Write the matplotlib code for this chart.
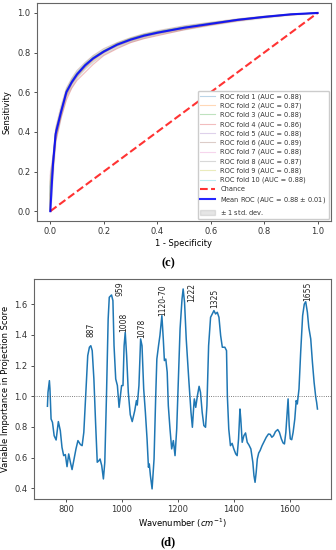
"""
ROC curves (10-fold CV) and VIP spectrum, two stacked panels.
"""
import matplotlib
matplotlib.use("Agg")
import matplotlib.pyplot as plt

# ---- panel (c): ROC ----
fold_fpr = [0, 0, 0.01, 0.02, 0.04, 0.06, 0.08, 0.10, 0.13, 0.16, 0.20, 0.25,
            0.30, 0.35, 0.40, 0.50, 0.60, 0.70, 0.80, 0.90, 1.0]
fold_tpr = [
    [0, 0.12, 0.26, 0.40, 0.51, 0.60, 0.66, 0.70, 0.74, 0.775, 0.81, 0.84, 0.87, 0.89, 0.905, 0.93, 0.95, 0.965, 0.98, 0.992, 1.0],
    [0, 0.10, 0.22, 0.37, 0.49, 0.58, 0.64, 0.68, 0.725, 0.76, 0.80, 0.835, 0.86, 0.88, 0.895, 0.92, 0.94, 0.962, 0.978, 0.99, 1.0],
    [0, 0.15, 0.25, 0.40, 0.50, 0.61, 0.655, 0.695, 0.74, 0.775, 0.81, 0.845, 0.87, 0.89, 0.905, 0.928, 0.948, 0.967, 0.982, 0.994, 1.0],
    [0, 0.08, 0.20, 0.35, 0.47, 0.56, 0.62, 0.66, 0.70, 0.74, 0.785, 0.82, 0.85, 0.87, 0.885, 0.915, 0.94, 0.96, 0.978, 0.99, 1.0],
    [0, 0.14, 0.25, 0.41, 0.51, 0.60, 0.65, 0.695, 0.74, 0.77, 0.805, 0.84, 0.865, 0.887, 0.90, 0.927, 0.946, 0.966, 0.981, 0.993, 1.0],
    [0, 0.18, 0.28, 0.42, 0.53, 0.62, 0.67, 0.71, 0.75, 0.785, 0.82, 0.85, 0.875, 0.895, 0.91, 0.935, 0.953, 0.97, 0.984, 0.995, 1.0],
    [0, 0.20, 0.27, 0.39, 0.50, 0.59, 0.645, 0.685, 0.735, 0.77, 0.80, 0.838, 0.862, 0.883, 0.898, 0.924, 0.945, 0.964, 0.98, 0.993, 1.0],
    [0, 0.09, 0.21, 0.37, 0.48, 0.585, 0.64, 0.68, 0.725, 0.765, 0.80, 0.833, 0.858, 0.878, 0.895, 0.92, 0.942, 0.962, 0.978, 0.991, 1.0],
    [0, 0.16, 0.26, 0.40, 0.505, 0.605, 0.655, 0.69, 0.735, 0.77, 0.808, 0.842, 0.868, 0.886, 0.902, 0.926, 0.946, 0.966, 0.981, 0.993, 1.0],
    [0, 0.13, 0.24, 0.39, 0.50, 0.60, 0.65, 0.69, 0.74, 0.772, 0.805, 0.84, 0.866, 0.886, 0.90, 0.925, 0.945, 0.965, 0.98, 0.993, 1.0],
]
fold_auc = [0.88, 0.87, 0.88, 0.86, 0.88, 0.89, 0.88, 0.87, 0.88, 0.88]

mean_fpr = [0, 0.01, 0.02, 0.04, 0.06, 0.08, 0.10, 0.13, 0.16, 0.20, 0.25,
            0.30, 0.35, 0.40, 0.50, 0.60, 0.70, 0.80, 0.90, 1.0]
mean_tpr = [0, 0.24, 0.39, 0.50, 0.60, 0.65, 0.69, 0.735, 0.77, 0.805, 0.84,
            0.865, 0.885, 0.90, 0.925, 0.945, 0.965, 0.98, 0.993, 1.0]
std_tpr = [0, 0.04, 0.03, 0.02, 0.02, 0.02, 0.015, 0.015, 0.015, 0.012, 0.012,
           0.01, 0.01, 0.008, 0.008, 0.006, 0.005, 0.004, 0.002, 0]
mean_auc, std_auc = 0.88, 0.01

# ---- panel (d): VIP scores ----
wavenumber = [734, 736, 741, 743, 747, 752, 758, 765, 773, 780, 786, 792, 798, 804,
              810, 816, 822, 828, 836, 843, 852, 858, 864, 870, 878, 884, 889, 894,
              900, 906, 912, 918, 922, 928, 934, 939, 945, 951, 955, 963, 968, 972,
              978, 984, 990, 999, 1004, 1008, 1012, 1017, 1023, 1030, 1037, 1046,
              1052, 1055, 1061, 1067, 1072, 1078, 1084, 1090, 1095, 1098, 1102, 1108,
              1115, 1121, 1125, 1131, 1136, 1143, 1148, 1152, 1157, 1162, 1166, 1172,
              1178, 1184, 1190, 1196, 1202, 1208, 1215, 1219, 1224, 1230, 1239, 1247,
              1252, 1257, 1259, 1264, 1270, 1276, 1281, 1287, 1293, 1299, 1304, 1310,
              1317, 1323, 1329, 1335, 1341, 1347, 1353, 1359, 1368, 1374, 1377, 1382,
              1388, 1394, 1400, 1407, 1412, 1417, 1422, 1425, 1430, 1436, 1442, 1448,
              1454, 1461, 1468, 1472, 1476, 1480, 1484, 1489, 1494, 1501, 1508, 1516,
              1524, 1530, 1536, 1542, 1549, 1557, 1563, 1570, 1576, 1581, 1586, 1590,
              1594, 1598, 1602, 1607, 1612, 1618, 1623, 1627, 1633, 1639, 1646, 1652,
              1657, 1663, 1668, 1675, 1681, 1687, 1693, 1696, 1699]
vip = [0.935, 1.026, 1.102, 1.048, 0.852, 0.83, 0.743, 0.715, 0.835, 0.776, 0.667,
       0.613, 0.62, 0.541, 0.624, 0.57, 0.522, 0.58, 0.657, 0.711, 0.685, 0.678,
       0.765, 0.983, 1.265, 1.32, 1.33, 1.298, 1.113, 0.83, 0.57, 0.58, 0.591,
       0.548, 0.461, 0.57, 1.004, 1.504, 1.646, 1.661, 1.624, 1.33, 1.113, 1.07,
       0.928, 1.07, 1.07, 1.33, 1.417, 1.265, 1.026, 0.88, 0.835, 0.906, 0.972,
       0.943, 1.07, 1.374, 1.33, 1.048, 0.896, 0.722, 0.537, 0.559, 0.483, 0.396,
       0.591, 1.004, 1.243, 1.33, 1.396, 1.526, 1.374, 1.233, 1.243, 1.157, 0.939,
       0.787, 0.657, 0.711, 0.613, 0.787, 1.113, 1.439, 1.635, 1.70, 1.613, 1.374,
       1.113, 0.896, 0.798, 0.939, 0.983, 0.928, 1.004, 1.065, 1.026, 0.896, 0.809,
       0.798, 0.939, 1.33, 1.515, 1.537, 1.559, 1.537, 1.548, 1.515, 1.396, 1.32,
       1.32, 1.298, 1.004, 0.787, 0.678, 0.693, 0.657, 0.624, 0.613, 0.722, 0.917,
       0.852, 0.70, 0.743, 0.761, 0.70, 0.683, 0.657, 0.57, 0.483, 0.439, 0.504,
       0.591, 0.63, 0.646, 0.678, 0.704, 0.733, 0.754, 0.752, 0.733, 0.743, 0.77,
       0.783, 0.765, 0.722, 0.696, 0.689, 0.765, 0.874, 0.983, 0.809, 0.722, 0.717,
       0.765, 0.852, 0.972, 0.95, 1.048, 1.287, 1.526, 1.602, 1.617, 1.548, 1.45,
       1.374, 1.222, 1.091, 0.993, 0.961, 0.917]
peak_labels = ['887', '959', '1008', '1078', '1120-70', '1222', '1325', '1655']
peak_text_pos = [(889, 1.385), (993, 1.657), (1008, 1.417), (1071, 1.378),
                 (1145, 1.526), (1249, 1.617), (1333, 1.574), (1663, 1.624)]

plt.rcParams['font.family'] = ['DejaVu Sans']
fig = plt.figure(figsize=(3.36, 5.5), dpi=100)
frame_col = '#666666'

# ---------------- (c) ----------------
ax1 = fig.add_axes([0.110, 0.598, 0.875, 0.3965])
for i, (tpr, auc) in enumerate(zip(fold_tpr, fold_auc)):
    ax1.plot(fold_fpr, tpr, lw=0.8, alpha=0.3,
             label='ROC fold %d (AUC = %0.2f)' % (i + 1, auc))
ax1.plot([0, 1], [0, 1], linestyle='--', lw=1.5, color='r', alpha=.8, label='Chance')
ax1.plot(mean_fpr, mean_tpr, color='b', lw=1.5, alpha=.85,
         label=r'Mean ROC (AUC = %0.2f $\pm$ %0.2f)' % (mean_auc, std_auc))
upper = [min(m + s, 1) for m, s in zip(mean_tpr, std_tpr)]
lower = [max(m - s, 0) for m, s in zip(mean_tpr, std_tpr)]
ax1.fill_between(mean_fpr, lower, upper, color='grey', alpha=.2,
                 label=r'$\pm$ 1 std. dev.')
ax1.set_xlim(-0.05, 1.05)
ax1.set_ylim(-0.05, 1.05)
ax1.set_xlabel('1 - Specificity', fontsize=6, labelpad=2)
ax1.set_ylabel('Sensitivity', fontsize=6, labelpad=4)
leg = ax1.legend(loc='lower right', fontsize=4.8, borderaxespad=0.25,
                 handlelength=2.2, labelspacing=0.42, framealpha=1,
                 edgecolor='#cccccc')
for t in leg.get_texts():
    t.set_color('#333333')
fig.text(0.5, 1 - 263 / 550, '(c)', ha='center', va='center', fontsize=9,
         fontweight='bold', family='Liberation Serif')

# ---------------- (d) ----------------
ax2 = fig.add_axes([0.101, 0.0927, 0.884, 0.4])
ax2.plot(wavenumber, vip, color='#1f77b4', lw=1.1)
ax2.axhline(1.0, color='#555555', linestyle=':', lw=0.6)
for lab, (x, y) in zip(peak_labels, peak_text_pos):
    ax2.text(x, y, lab, rotation=90, ha='center', va='bottom', fontsize=5.5,
             color='#222222')
ax2.set_ylim(0.33, 1.765)
ax2.set_xticks([800, 1000, 1200, 1400, 1600])
ax2.set_yticks([0.4, 0.6, 0.8, 1.0, 1.2, 1.4, 1.6])
ax2.set_xlabel('Wavenumber ($cm^{-1}$)', fontsize=6, labelpad=2)
ax2.set_ylabel('Variable Importance in Projection Score', fontsize=6, labelpad=3)
fig.text(0.5, 1 - 542 / 550, '(d)', ha='center', va='center', fontsize=9,
         fontweight='bold', family='Liberation Serif')

for ax in (ax1, ax2):
    ax.tick_params(labelsize=6, length=2.5, width=0.6, pad=2,
                   colors='#333333')
    for sp in ax.spines.values():
        sp.set_color(frame_col)
        sp.set_linewidth(0.8)

plt.savefig('out.png', dpi=100)
plt.close()
